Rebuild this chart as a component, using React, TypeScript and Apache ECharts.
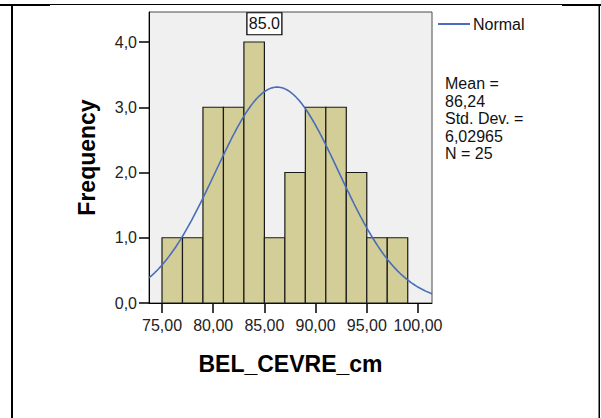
import React, { useEffect, useRef } from "react";
import * as echarts from "echarts";

// Histogram bins (left edges), bin width and observed frequencies
const BIN_STARTS = [75, 77, 79, 81, 83, 85, 87, 89, 91, 93, 95, 97];
const BIN_WIDTH = 2;
const COUNTS = [1, 1, 3, 3, 4, 1, 2, 3, 3, 2, 1, 1];

// Summary statistics of BEL_CEVRE_cm
const MEAN = 86.24;
const STD_DEV = 6.02965;
const N = 25;

// Axis ranges and tick values
const X_MIN = 73.73;
const X_MAX = 101.37;
const Y_MAX = 4.46;
const X_TICKS = [75, 80, 85, 90, 95, 100];
const Y_TICKS = [0, 1, 2, 3, 4];

// Value shown in the hover box
const HOVER_X = 85;
const HOVER_Y = 4.28;

const FONT = "'Liberation Sans', Arial, sans-serif";
const CURVE_COLOR = "#4A6CBC";

const comma = (v: number, digits: number) => v.toFixed(digits).replace(".", ",");

// Normal density scaled to counts per bin
function normalCurve(): number[][] {
  const pts: number[][] = [];
  const k = (N * BIN_WIDTH) / (STD_DEV * Math.sqrt(2 * Math.PI));
  const steps = 200;
  for (let i = 0; i <= steps; i++) {
    const x = X_MIN + ((X_MAX - X_MIN) * i) / steps;
    const z = (x - MEAN) / STD_DEV;
    pts.push([x, k * Math.exp(-0.5 * z * z)]);
  }
  return pts;
}

export default function App() {
  const ref = useRef<HTMLDivElement>(null);

  useEffect(() => {
    document.body.style.margin = "0";
    if (!ref.current) return;
    const chart = echarts.init(ref.current, undefined, { renderer: "svg" });

    const bins = BIN_STARTS.map((s, i) => [s, s + BIN_WIDTH, COUNTS[i]]);
    const stats = [
      "Mean =",
      comma(MEAN, 2),
      "Std. Dev. =",
      comma(STD_DEV, 5),
      `N = ${N}`,
    ].join("\n");

    chart.setOption({
      animation: false,
      backgroundColor: "#ffffff",
      textStyle: { fontFamily: FONT },
      grid: {
        left: 149,
        top: 12,
        right: 169,
        bottom: 115,
        show: true,
        backgroundColor: "#F0F0F0",
        borderColor: "#4a4a4a",
        borderWidth: 1,
        containLabel: false,
      },
      legend: {
        left: 437,
        top: 16,
        padding: 0,
        itemWidth: 32,
        itemHeight: 14,
        itemStyle: { opacity: 0 },
        lineStyle: { color: CURVE_COLOR, width: 2 },
        textStyle: { fontSize: 16, color: "#111", fontFamily: FONT, padding: [0, 0, 0, -2] },
        data: ["Normal"],
      },
      xAxis: {
        type: "value",
        min: X_MIN,
        max: X_MAX,
        name: "BEL_CEVRE_cm",
        nameLocation: "middle",
        nameGap: 49,
        nameTextStyle: { fontSize: 23, fontWeight: "bold", color: "#000", fontFamily: FONT },
        splitLine: { show: false },
        axisLine: { show: true, lineStyle: { color: "#000", width: 1 } },
        axisTick: {
          show: true,
          length: 10,
          lineStyle: { color: "#000", width: 1.5 },
          customValues: X_TICKS,
        },
        axisLabel: {
          customValues: X_TICKS,
          formatter: (v: number) => comma(v, 2),
          fontSize: 16,
          color: "#222",
          margin: 14,
          fontFamily: FONT,
        },
      },
      yAxis: {
        type: "value",
        min: 0,
        max: Y_MAX,
        name: "Frequency",
        nameLocation: "middle",
        nameGap: 51,
        nameTextStyle: { fontSize: 23, fontWeight: "bold", color: "#000", fontFamily: FONT },
        splitLine: { show: false },
        axisLine: { show: true, lineStyle: { color: "#000", width: 1 } },
        axisTick: {
          show: true,
          length: 10,
          lineStyle: { color: "#000", width: 1.5 },
          customValues: Y_TICKS,
        },
        axisLabel: {
          customValues: Y_TICKS,
          formatter: (v: number) => comma(v, 1),
          fontSize: 16,
          color: "#222",
          margin: 12,
          fontFamily: FONT,
        },
      },
      series: [
        {
          type: "custom",
          name: "Frequency",
          data: bins,
          encode: { x: [0, 1], y: 2 },
          renderItem: (_params: any, api: any) => {
            const p0 = api.coord([api.value(0), api.value(2)]);
            const p1 = api.coord([api.value(1), 0]);
            return {
              type: "rect",
              shape: { x: p0[0], y: p0[1], width: p1[0] - p0[0], height: p1[1] - p0[1] },
              style: { fill: "#D3CE98", stroke: "#1a1a1a", lineWidth: 1.2 },
            };
          },
          z: 2,
        },
        {
          type: "line",
          name: "Normal",
          data: normalCurve(),
          symbol: "none",
          showSymbol: false,
          smooth: false,
          lineStyle: { color: CURVE_COLOR, width: 1.6 },
          itemStyle: { color: CURVE_COLOR },
          z: 3,
          markPoint: {
            symbol: "rect",
            symbolSize: [35, 22],
            itemStyle: { color: "#ffffff", borderColor: "#000", borderWidth: 1 },
            label: {
              show: true,
              position: "inside",
              formatter: HOVER_X.toFixed(1),
              fontSize: 16,
              color: "#111",
              fontFamily: FONT,
            },
            data: [{ coord: [HOVER_X, HOVER_Y] }],
            z: 5,
          },
        },
      ],
      graphic: [
        {
          type: "text",
          left: 445,
          top: 75,
          style: {
            text: stats,
            fontSize: 16,
            lineHeight: 17.5,
            fill: "#111",
            fontFamily: FONT,
          },
        },
        // cell borders
        { type: "line", shape: { x1: 0, y1: 4.5, x2: 601, y2: 4.5 }, style: { stroke: "#000", lineWidth: 1 } },
        { type: "rect", shape: { x: 0, y: 4, width: 50, height: 2 }, style: { fill: "#000" } },
        { type: "rect", shape: { x: 562, y: 4, width: 39, height: 2 }, style: { fill: "#000" } },
        { type: "rect", shape: { x: 11, y: 5, width: 2, height: 413 }, style: { fill: "#000" } },
        { type: "rect", shape: { x: 598.5, y: 5, width: 1.5, height: 413 }, style: { fill: "#000" } },
      ],
    });

    return () => chart.dispose();
  }, []);

  return <div ref={ref} style={{ width: 601, height: 418 }} />;
}
